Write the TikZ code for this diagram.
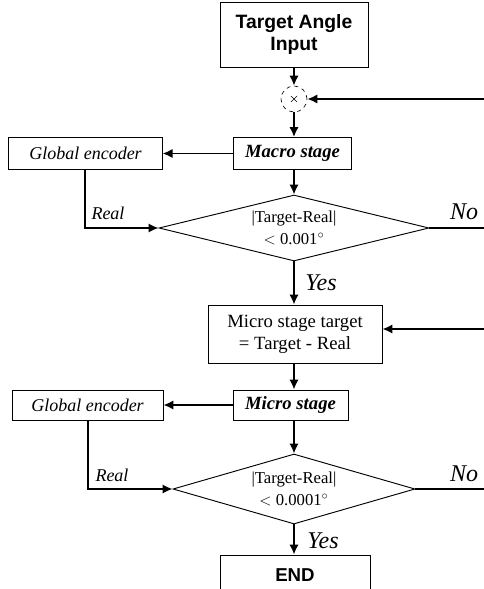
\documentclass[tikz,border=0pt]{standalone}
\usepackage{fontspec}
\setmainfont{Liberation Serif}
\setsansfont{Liberation Sans}
\usetikzlibrary{arrows.meta,shapes.geometric}
\begin{document}
\begin{tikzpicture}[x=0.75pt,y=-0.75pt,
  box/.style={draw, line width=0.6pt, inner sep=0pt, align=center},
  dec/.style={draw, shape=diamond, shape aspect=4, line width=0.7pt, inner sep=0pt, align=center, font=\fontsize{12.5}{16}\selectfont},
  conn/.style={line width=1.4pt},
  arr/.style={conn, -{Latex[length=7.5pt,width=7pt]}},
  lbl/.style={font=\itshape\fontsize{18}{19}\selectfont, inner sep=0pt},
  rlbl/.style={font=\itshape\fontsize{13.5}{14}\selectfont, inner sep=0pt}
]
\useasboundingbox (0,0) rectangle (484,589);
\clip (0,0) rectangle (484,589);

% nodes
\node[box, minimum width=111pt, minimum height=48.75pt, font=\sffamily\bfseries\fontsize{14.5}{17}\selectfont] (tai) at (294,34.5) {Target Angle\\Input};
\node[draw, circle, dashed, line width=0.5pt, minimum size=19.5pt, inner sep=0pt] (sum) at (294,99) {};
\node[box, minimum width=88.5pt, minimum height=24pt, font=\bfseries\itshape\fontsize{14}{15}\selectfont] (macro) at (292.5,153.5) {Macro stage};
\node[box, minimum width=115pt, minimum height=24pt, font=\itshape\fontsize{13.5}{14}\selectfont] (glob1) at (85.5,153.5) {Global encoder};
\node[dec, minimum width=202.5pt, minimum height=49.5pt] (dia1) at (294,228) {|Target-Real|\\$<$ 0.001$^\circ$};
\node[box, minimum width=130.5pt, minimum height=43.5pt, font=\fontsize{14}{16.5}\selectfont] (mt) at (295,334) {Micro stage target\\= Target - Real};
\node[box, minimum width=86.25pt, minimum height=22.5pt, font=\bfseries\itshape\fontsize{14}{15}\selectfont] (micro) at (290.5,405) {Micro stage};
\node[box, minimum width=113.25pt, minimum height=22.5pt, font=\itshape\fontsize{13.5}{14}\selectfont] (glob2) at (87.5,405) {Global encoder};
\node[dec, minimum width=181.5pt, minimum height=52.5pt] (dia2) at (294,489) {|Target-Real|\\$<$ 0.0001$^\circ$};
\node[box, minimum width=112.5pt, minimum height=30pt, font=\sffamily\bfseries\fontsize{14}{16}\selectfont] (endn) at (295,575) {END};

% free ends at the right edge
\coordinate (fb1) at (484,99);
\coordinate (no1) at (484,228);
\coordinate (fb2) at (484,329);
\coordinate (no2) at (484,489);

% summing junction marks
\draw[line width=0.4pt] (sum.center) ++(-3,-3) -- ++(6,6);
\draw[line width=0.4pt] (sum.center) ++(3,-3) -- ++(-6,6);

% connectors
\draw[arr] (tai.south) -- (sum.north);
\draw[arr] (sum.south) -- (macro.north -| sum.south);
\draw[arr] (fb1) -- (sum.east);
\draw[arr] (macro.west) -- (glob1.east);
\draw[arr] (macro.south -| dia1.north) -- (dia1.north);
\draw[arr] (glob1.south -| 85,0) |- (dia1.west);
\draw[conn] (dia1.east) -- (no1);
\draw[arr] (dia1.south) -- (mt.north -| dia1.south);
\draw[arr] (fb2) -- (mt.east |- fb2);
\draw[arr] (mt.south -| 294,0) -- (micro.north -| 294,0);
\draw[arr] (micro.west) -- (glob2.east);
\draw[arr] (micro.south -| dia2.north) -- (dia2.north);
\draw[arr] (glob2.south -| 88,0) |- (dia2.west);
\draw[conn] (dia2.east) -- (no2);
\draw[arr] (dia2.south) -- (endn.north -| dia2.south);

% labels
\node[rlbl] (real1) at (108,213) {Real};
\node[rlbl] (real2) at (112,475) {Real};
\node[lbl] (nol1) at (464,212) {No};
\node[lbl] (nol2) at (464,474) {No};
\node[lbl] (yes1) at (321,283) {Yes};
\node[lbl] (yes2) at (323,541) {Yes};
\end{tikzpicture}
\end{document}
